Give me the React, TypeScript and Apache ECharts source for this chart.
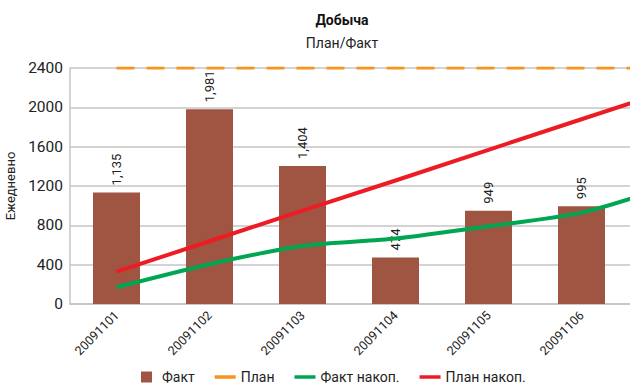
import React, { useEffect, useRef } from "react";
import * as echarts from "echarts";

// Reporting days; the seventh day continues the cumulative lines past the right edge.
const categories = ["20091101", "20091102", "20091103", "20091104", "20091105", "20091106", "20091107"];
// Daily actual output
const factDaily: (number | null)[] = [1135, 1981, 1404, 474, 949, 995, null];
// Daily plan
const planDaily = [2400, 2400, 2400, 2400, 2400, 2400, 2400];
// Cumulative actual (scaled onto the daily axis)
const factCumulative = [170, 405, 590, 665, 790, 929, 1215];
// Cumulative plan (scaled onto the daily axis)
const planCumulative = [329, 638, 949, 1256, 1568, 1879, 2190];
const yTicks = { min: 0, max: 2400, interval: 400 };

const FONT = "'Roboto', sans-serif";
const BROWN = "#A05442";
const ORANGE = "#F7941D";
const GREEN = "#00A651";
const RED = "#ED1C24";
const GRID = "#C4C4C4";

export default function App() {
  const ref = useRef<HTMLDivElement>(null);

  useEffect(() => {
    document.body.style.margin = "0";
    if (!ref.current) return;
    const chart = echarts.init(ref.current, null, { renderer: "svg" });
    chart.setOption({
      animation: false,
      textStyle: { fontFamily: FONT },
      title: [
        {
          text: "Добыча",
          left: 337,
          top: 8,
          textAlign: "center",
          textStyle: { fontFamily: FONT, fontSize: 14, fontWeight: "bold", color: "#111" },
        },
        {
          text: "План/Факт",
          left: 337,
          top: 31,
          textAlign: "center",
          textStyle: { fontFamily: FONT, fontSize: 14, fontWeight: "normal", color: "#222" },
        },
      ],
      legend: {
        left: 136,
        top: 365,
        itemWidth: 21,
        itemHeight: 11,
        itemGap: 20,
        textStyle: { fontFamily: FONT, fontSize: 14, color: "#222" },
        data: [
          { name: "Факт", icon: "path://M0,0h11v11h-11z" },
          { name: "План", icon: "path://M0,0h21v3.5h-21z" },
          { name: "Факт накоп.", icon: "path://M0,0h21v3.5h-21z" },
          { name: "План накоп.", icon: "path://M0,0h21v3.5h-21z" },
        ],
      },
      // Seven bands of equal width; the last one lies beyond the right edge.
      grid: {
        left: 70,
        top: 68,
        width: 651,
        height: 236,
        containLabel: false,
        outerBoundsMode: "none",
      },
      xAxis: {
        type: "category",
        data: categories,
        axisLine: { show: true, lineStyle: { color: GRID, width: 1.5 } },
        axisTick: { show: false },
        axisLabel: {
          rotate: 45,
          margin: 9,
          fontSize: 12.5,
          color: "#222",
          fontFamily: FONT,
          padding: [0, 0, 0, 0],
          interval: (index: number) => index < 6,
        },
      },
      yAxis: {
        type: "value",
        min: yTicks.min,
        max: yTicks.max,
        interval: yTicks.interval,
        name: "Ежедневно",
        nameLocation: "middle",
        nameGap: 46,
        nameTextStyle: { fontFamily: FONT, fontSize: 13, color: "#222" },
        axisLine: { show: true, lineStyle: { color: GRID, width: 1.5 } },
        axisTick: { show: false },
        axisLabel: {
          fontSize: 15.5,
          color: "#222",
          margin: 7,
          fontFamily: FONT,
          formatter: (v: number) => String(v),
        },
        splitLine: { show: true, lineStyle: { color: GRID, width: 1.5 } },
      },
      series: [
        {
          name: "Факт",
          type: "bar",
          data: factDaily,
          barWidth: 47,
          itemStyle: { color: BROWN },
          label: {
            show: true,
            position: "top",
            rotate: 90,
            align: "left",
            verticalAlign: "middle",
            distance: 7,
            fontSize: 13,
            color: "#222",
            fontFamily: FONT,
            formatter: (p: any) => Number(p.value).toLocaleString("en-US"),
          },
          z: 2,
        },
        {
          name: "План",
          type: "line",
          data: planDaily,
          showSymbol: false,
          lineStyle: { color: ORANGE, width: 3, type: [18, 12] },
          itemStyle: { color: ORANGE },
          z: 3,
        },
        {
          name: "Факт накоп.",
          type: "line",
          data: factCumulative,
          showSymbol: false,
          smooth: 0.25,
          lineStyle: { color: GREEN, width: 4 },
          itemStyle: { color: GREEN },
          z: 3,
        },
        {
          name: "План накоп.",
          type: "line",
          data: planCumulative,
          showSymbol: false,
          lineStyle: { color: RED, width: 4 },
          itemStyle: { color: RED },
          z: 3,
        },
      ],
    });
    return () => chart.dispose();
  }, []);

  return <div ref={ref} style={{ width: 630, height: 384 }} />;
}
